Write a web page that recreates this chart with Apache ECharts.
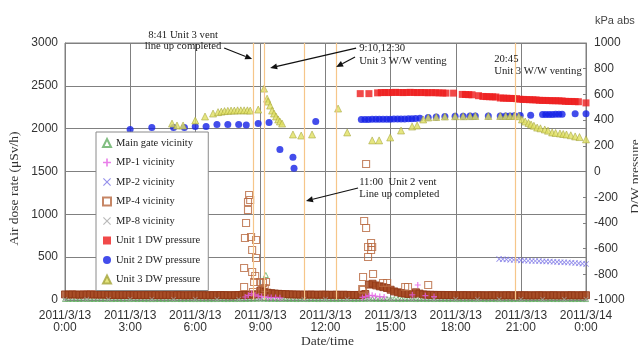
<!DOCTYPE html>
<html>
<head>
<meta charset="utf-8">
<script src="https://cdn.jsdelivr.net/npm/echarts@6/dist/echarts.min.js"></script>
<style>html,body{margin:0;padding:0;background:#fff;}#c{width:638px;height:347px;}</style>
</head>
<body>
<div id="c"></div>
<script>
// ---------- DATA ----------
const xTickLabels = ['2011/3/13\n0:00','2011/3/13\n3:00','2011/3/13\n6:00','2011/3/13\n9:00','2011/3/13\n12:00','2011/3/13\n15:00','2011/3/13\n18:00','2011/3/13\n21:00','2011/3/14\n0:00'];
const seriesNames = ['Main gate vicinity','MP-1 vicinity','MP-2 vicinity','MP-4 vicinity','MP-8 vicinity','Unit 1 DW pressure','Unit 2 DW pressure','Unit 3 DW pressure'];
const sampleStepH = 1/6; // regular 10-minute readings

// Main gate vicinity (uSv/h), 10-min readings from 0:00
const mainGateBase = [
 12,12,13,12,12,13, 12,12,12,13,12,12, 12,11,12,12,11,12, 11,12,11,12,11,11,
 11,11,12,11,11,12, 11,12,11,11,12,11, 11,11,12,11,11,11, 11,12,11,11,12,11,
 12,11,12,13,14,15, 16,15,14,13,13,12, 12,12,12,12,11,12, 12,11,12,12,11,12,
 12,11,12,11,12,12, 12,12,11,12,13,13, 14,13,13,12,12,12, 12,12,12,11,12,12,
 12,11,12,12,11,12, 11,12,11,12,11,12, 11,11,12,11,12,11, 11,12,11,11,12,11,
 11,11,12,11,11,12, 11,12,11,11,12,11, 11,11,12,11,11,11, 11,12,11,11,12,11, 11];
const mainGateExtra = [[9.1,110],[9.25,292]];

// MP-1 vicinity (uSv/h) [hour, value]
const mp1 = [[8.3,35],[8.45,55],[8.6,75],[8.75,60],[8.9,45],[9.05,40],[9.2,35],[9.35,30],[9.5,28],[9.7,30],[9.9,25],
 [13.7,30],[13.85,40],[14.0,50],[14.15,55],[14.3,45],[14.5,40],[14.7,35],[16.0,60],[16.25,175],[16.6,50],[17.0,40]];

// MP-2 vicinity (uSv/h), 10-min readings from 20:00
const mp2Start = 20.0;
const mp2 = [478,476,474,470,468,466,462,460,458,456,455,454,452,450,448,446,444,442,440,438,436,432,428,424,420];

// MP-4 vicinity (uSv/h), 10-min readings from 0:00
const mp4Base = [
 65,63,66,64,62,65, 64,66,63,65,62,64, 60,58,61,57,59,60, 58,57,59,56,58,57,
 57,58,56,57,59,56, 56,58,57,55,57,56, 57,56,58,55,56,57, 56,58,57,56,55,57,
 58,60,61,62,64,66, 110,95,85,80,75,72, 70,68,66,65,64,63, 63,62,64,62,61,63,
 62,60,61,62,60,61, 60,58,59,57,62,70, 180,190,170,160,150,140, 120,100,90,80,75,70,
 68,90,75,65,62,60, 60,58,59,57,58,57, 56,55,57,56,55,56, 55,56,54,55,56,55,
 55,54,56,55,54,55, 55,56,54,55,54,56, 55,54,55,56,54,55, 54,55,56,54,55,55, 56];
const mp4Spikes = [[8.25,152],[8.25,374],[8.29,724],[8.34,899],[8.43,1050],[8.43,1144],[8.48,1226],[8.53,1167],
 [8.57,735],[8.62,584],[8.62,327],[8.66,93],[8.71,210],[8.76,280],[8.80,700],[8.80,490],[8.99,210],[9.08,117],
 [9.12,198],[9.2,140],[9.26,210],
 [13.69,128],[13.73,268],[13.73,117],[13.78,922],[13.87,1587],[13.87,840],[13.96,619],[13.96,502],[14.1,665],
 [14.1,584],[14.15,619],[14.19,303],[14.65,198],[14.84,198],[15.67,152],[15.8,152],[16.73,175]];

// MP-8 vicinity (uSv/h), hourly from 0:00
const mp8 = [8,8,9,8,8,8,8,8,9,10,9,8,8,8,9,8,8,8,8,8,8,8,8,8,8];

// DW pressures (kPa abs) [hour, value]
const unit1 = [[13.6,606],[14.0,606],
 [14.4,612],[14.57,614],[14.73,615],[14.9,614],[15.07,615],[15.23,616],[15.4,615],[15.57,614],[15.73,615],[15.9,616],
 [16.07,615],[16.23,614],[16.4,615],[16.57,614],[16.73,613],[16.9,614],[17.07,613],[17.23,612],[17.4,611],[17.55,610],
 [17.9,610],[18.3,600],[18.45,599],[18.6,598],[18.75,597],[19.05,590],[19.25,584],[19.4,583],[19.55,582],[19.7,581],
 [19.85,580],[20.05,572],[20.2,571],[20.35,570],[20.5,569],[20.65,568],[20.8,567],[20.95,562],[21.1,561],[21.25,560],
 [21.4,559],[21.55,558],[21.7,557],[21.85,554],[22.0,553],[22.15,553],[22.3,552],[22.45,551],[22.6,551],[22.75,550],
 [22.9,549],[23.05,546],[23.2,545],[23.35,545],[23.5,544],[23.65,543],[24.0,534]];
const unit2 = [[3.0,327],[4.0,342],[5.0,342],[5.5,342],[6.0,350],[6.5,350],[7.0,366],[7.5,366],[8.0,366],[8.35,362],
 [8.9,373],[9.4,381],[9.9,172],[10.5,110],[10.55,25],[11.55,389],
 [13.65,405],[13.82,405],[13.98,405],[14.15,406],[14.32,406],[14.48,406],[14.65,407],[14.82,407],[14.98,407],[15.15,408],
 [15.32,408],[15.48,409],[15.65,409],[15.82,410],[15.98,411],[16.15,412],[16.35,414],
 [16.73,420],[17.1,424],[17.5,428],[17.97,430],[18.34,430],[18.66,431],[18.9,432],[19.5,432],[20.05,432],[20.3,432],
 [20.5,432],[20.7,433],[20.97,436],[21.45,438],[22.0,443],[22.15,443],[22.3,444],[22.45,444],[22.6,445],[22.75,445],
 [22.9,446],[23.5,449],[24.0,450]];
const unit3 = [[4.93,373],[5.16,358],[5.44,358],[6.0,397],[6.45,428],[6.82,451],[7.05,462],[7.2,466],[7.35,470],[7.5,472],
 [7.65,474],[7.8,474],[7.95,476],[8.1,476],[8.25,476],[8.4,476],[8.53,474],[8.9,482],[9.17,645],[9.31,567],[9.35,544],
 [9.45,513],[9.54,474],[9.63,451],[9.72,428],[9.82,405],[9.9,389],[10.0,373],[10.5,288],[10.88,280],[11.38,288],
 [12.58,490],[13.0,304],[14.15,242],[14.47,242],[14.98,265],[15.48,319],[15.99,350],[16.22,358],[16.5,405],[16.73,420],
 [17.1,424],[17.5,428],[17.97,430],[18.34,430],[18.66,431],[18.9,432],[19.5,432],[20.05,432],[20.3,432],[20.5,432],
 [20.7,433],[20.9,430],[21.05,405],[21.2,389],[21.35,378],[21.47,366],[21.6,356],[21.75,342],[21.9,336],[22.1,327],
 [22.25,318],[22.44,304],[22.6,300],[22.8,296],[22.95,292],[23.1,288],[23.3,282],[23.5,273],[23.7,268],[24.0,250]];

// Event times (hours) drawn as orange vertical lines
const eventTimes = [8 + 41/60, 9 + 10/60, 11.0, 12.5, 20.75];

// Annotations: [hour, doseRate] anchors in left-axis data space
const annTexts = [
  {at:[5.44,3093], text:'8:41 Unit 3 vent', align:'center'},
  {at:[5.44,2965], text:'line up completed', align:'center'},
  {at:[13.55,2941], text:'9:10,12:30', align:'left'},
  {at:[13.55,2790], text:'Unit 3 W/W venting', align:'left'},
  {at:[13.55,1377], text:'11:00  Unit 2 vent', align:'left'},
  {at:[13.55,1237], text:'Line up completed', align:'left'},
  {at:[19.77,2813], text:'20:45', align:'left'},
  {at:[19.77,2673], text:'Unit 3 W/W venting', align:'left'}
];
const annArrows = [
  {from:[7.33,2941], to:[8.62,2813]},
  {from:[13.41,2941], to:[9.45,2708]},
  {from:[13.36,2836], to:[12.49,2720]},
  {from:[13.5,1307], to:[11.1,1156]}
];

// ---------- BUILD ----------
const SERIF = 'Liberation Serif';
const SANS = 'Liberation Sans';
const regular = (start, step, vals) => vals.map((v, i) => [start + i * step, v]);

const plusPath = 'path://M4,0H6V4H10V6H6V10H4V6H0V4H4Z';
const crossPath = 'path://M0,1L1,0L5,4L9,0L10,1L6,5L10,9L9,10L5,6L1,10L0,9L4,5Z';
const clear = 'rgba(255,255,255,0)';
const plain = v => String(v);

// dense MP-4 band: overlapping readings merge into a solid dark band
const mp4Data = regular(0, sampleStepH, mp4Base).map(p => ({value: p,
  itemStyle: {color: '#a4461e', borderColor: '#8e3414', borderWidth: 1}})).concat(mp4Spikes);

const chart = echarts.init(document.getElementById('c'));
const option = {
  animation: false,
  backgroundColor: '#fff',
  grid: {left: 65, right: 52, top: 43, bottom: 47, containLabel: false, outerBoundsMode: 'none',
    show: true, borderColor: '#808080', borderWidth: 1},
  legend: {
    orient: 'vertical', left: 96, top: 132,
    data: seriesNames,
    backgroundColor: '#fff', borderColor: '#8a8a8a', borderWidth: 1,
    padding: [5, 8, 5, 6],
    itemWidth: 8, itemHeight: 8, itemGap: 7.5,
    textStyle: {fontFamily: SERIF, fontSize: 10.5, color: '#222', lineHeight: 12},
    selectedMode: false
  },
  xAxis: {
    type: 'value', min: 0, max: 24, interval: 3,
    name: 'Date/time', nameLocation: 'middle', nameGap: 34, nameMoveOverlap: false,
    nameTextStyle: {fontFamily: SERIF, fontSize: 13.5, color: '#333', padding: [0, 0, 0, 4]},
    axisLine: {show: true, lineStyle: {color: '#808080'}},
    axisTick: {show: false},
    axisLabel: {fontFamily: SANS, fontSize: 12, color: '#333', margin: 10, lineHeight: 12,
      formatter: v => xTickLabels[Math.round(v / 3)]},
    splitLine: {show: true, lineStyle: {color: '#808080', width: 1}}
  },
  yAxis: [{
    type: 'value', min: 0, max: 3000, interval: 500,
    name: 'Air dose rate (μSv/h)', nameLocation: 'middle', nameRotate: 90, nameGap: 44, nameMoveOverlap: false,
    nameTextStyle: {fontFamily: SERIF, fontSize: 13.5, color: '#333', padding: [0, 34, 0, 0]},
    axisLine: {show: true, lineStyle: {color: '#808080'}},
    axisTick: {show: false},
    axisLabel: {fontFamily: SANS, fontSize: 12, color: '#333', margin: 7, formatter: plain},
    splitLine: {show: true, lineStyle: {color: '#808080', width: 1}}
  }, {
    type: 'value', position: 'right', min: -1000, max: 1000, interval: 200,
    name: 'D/W pressure', nameLocation: 'middle', nameRotate: 90, nameGap: 42, nameMoveOverlap: false,
    nameTextStyle: {fontFamily: SERIF, fontSize: 13.5, color: '#333', padding: [0, 10, 0, 0]},
    axisLine: {show: true, lineStyle: {color: '#808080'}},
    axisTick: {show: true, inside: true, length: 3, lineStyle: {color: '#808080'}},
    axisLabel: {fontFamily: SANS, fontSize: 12, color: '#333', margin: 8, formatter: plain},
    splitLine: {show: false}
  }],
  graphic: [],
  series: [
    {name: 'events', type: 'scatter', data: [], silent: true, z: 1,
      markLine: {silent: true, symbol: ['none','none'], label: {show: false},
        lineStyle: {color: '#f6c68a', width: 1.2, type: 'solid'},
        data: eventTimes.map(t => ({xAxis: t}))}},
    {name: seriesNames[0], type: 'scatter', yAxisIndex: 0, symbol: 'triangle', symbolSize: 5,
      itemStyle: {color: clear, borderColor: '#62ae62', borderWidth: 1},
      data: regular(0, sampleStepH, mainGateBase).concat(mainGateExtra)},
    {name: seriesNames[1], type: 'scatter', yAxisIndex: 0, symbol: plusPath, symbolSize: 6, z: 4,
      itemStyle: {color: '#e45ee4'}, data: mp1},
    {name: seriesNames[2], type: 'scatter', yAxisIndex: 0, symbol: crossPath, symbolSize: 6,
      itemStyle: {color: '#7a74e6'}, data: regular(mp2Start, sampleStepH, mp2)},
    {name: seriesNames[3], type: 'scatter', yAxisIndex: 0, symbol: 'rect', symbolSize: 7,
      itemStyle: {color: clear, borderColor: '#b8683e', borderWidth: 1.1},
      data: mp4Data},
    {name: seriesNames[4], type: 'scatter', yAxisIndex: 0, symbol: crossPath, symbolSize: 5,
      itemStyle: {color: '#a8a8a8'}, data: regular(0, 1, mp8)},
    {name: seriesNames[5], type: 'scatter', yAxisIndex: 1, symbol: 'rect', symbolSize: 7,
      itemStyle: {color: '#ee1c1c'}, data: unit1},
    {name: seriesNames[6], type: 'scatter', yAxisIndex: 1, symbol: 'circle', symbolSize: 7,
      itemStyle: {color: '#1420e6'}, data: unit2},
    {name: seriesNames[7], type: 'scatter', yAxisIndex: 1, symbol: 'triangle', symbolSize: 7,
      itemStyle: {color: '#e0e062', borderColor: '#a4a43a', borderWidth: 0.7}, data: unit3}
  ]
};
chart.setOption(option);

// annotations positioned through the chart's own scales
function px(p) { return chart.convertToPixel({xAxisIndex: 0, yAxisIndex: 0}, p); }
const g = [];
annTexts.forEach(a => {
  const p = px(a.at);
  g.push({type: 'text', x: p[0], y: p[1], z: 100,
    style: {text: a.text, fontFamily: SERIF, fontSize: 10.7, fill: '#222', align: a.align, verticalAlign: 'middle'}});
});
annArrows.forEach(a => {
  const s = px(a.from), e = px(a.to);
  const dx = e[0] - s[0], dy = e[1] - s[1];
  const len = Math.sqrt(dx * dx + dy * dy);
  const ux = dx / len, uy = dy / len;
  const hl = 7, hw = 3;
  const bx = e[0] - ux * hl, by = e[1] - uy * hl;
  g.push({type: 'line', z: 100, shape: {x1: s[0], y1: s[1], x2: bx, y2: by}, style: {stroke: '#111', lineWidth: 1.2}});
  g.push({type: 'polygon', z: 100, shape: {points: [[e[0], e[1]], [bx - uy * hw, by + ux * hw], [bx + uy * hw, by - ux * hw]]},
    style: {fill: '#111'}});
});
g.push({type: 'text', left: 595, top: 15, z: 100, style: {text: 'kPa abs', fontFamily: SANS, fontSize: 11, fill: '#444'}});
chart.setOption({graphic: g});
</script>
</body>
</html>
